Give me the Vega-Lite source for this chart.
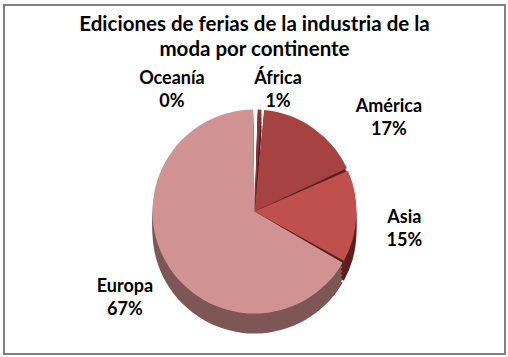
{
  "$schema": "https://vega.github.io/schema/vega-lite/v6.json",
  "width": 501,
  "height": 349,
  "autosize": {"type": "none"},
  "padding": {"left": 4, "top": 5, "right": 3, "bottom": 3},
  "background": "white",
  "view": {"stroke": "#808080", "strokeWidth": 2, "fill": "white"},
  "title": {
    "text": ["Ediciones de ferias de la industria de la", "moda por continente"],
    "orient": "top",
    "anchor": "middle",
    "frame": "group",
    "offset": -55,
    "font": "Lato",
    "fontSize": 20.5,
    "fontWeight": "bold",
    "color": "black",
    "lineHeight": 25
  },
  "data": {
    "values": [
      {"continente": "Oceanía", "porcentaje": 0.3, "orden": 1, "etiqueta": "Oceanía\n0%"},
      {"continente": "África", "porcentaje": 1.0, "orden": 2, "etiqueta": "África\n1%"},
      {"continente": "América", "porcentaje": 17.0, "orden": 3, "etiqueta": "América\n17%"},
      {"continente": "Asia", "porcentaje": 15.0, "orden": 4, "etiqueta": "Asia\n15%"},
      {"continente": "Europa", "porcentaje": 67.0, "orden": 5, "etiqueta": "Europa\n67%"}
    ]
  },
  "encoding": {
    "theta": {"field": "porcentaje", "type": "quantitative", "stack": true},
    "order": {"field": "orden", "type": "quantitative"}
  },
  "layer": [
    {
      "layer": [
        {"mark": {"type": "arc", "outerRadius": 102, "padAngle": 0.025, "yOffset": 52}},
        {"mark": {"type": "arc", "outerRadius": 102, "padAngle": 0.025, "yOffset": 48}},
        {"mark": {"type": "arc", "outerRadius": 102, "padAngle": 0.025, "yOffset": 44}},
        {"mark": {"type": "arc", "outerRadius": 102, "padAngle": 0.025, "yOffset": 40}},
        {"mark": {"type": "arc", "outerRadius": 102, "padAngle": 0.025, "yOffset": 36}}
      ],
      "encoding": {
        "color": {
          "field": "continente",
          "type": "nominal",
          "scale": {
            "domain": ["Oceanía", "África", "América", "Asia", "Europa"],
            "range": ["#4a1c1c", "#4a1c1c", "#5a2020", "#5c1e1e", "#7e5656"]
          },
          "legend": null
        }
      }
    },
    {
      "mark": {"type": "arc", "outerRadius": 102, "padAngle": 0.025, "yOffset": 32},
      "encoding": {
        "color": {
          "field": "continente",
          "type": "nominal",
          "scale": {
            "domain": ["Oceanía", "África", "América", "Asia", "Europa"],
            "range": ["#8b3333", "#8b3333", "#a64242", "#c0504d", "#d09292"]
          },
          "legend": null
        }
      }
    },
    {
      "mark": {"type": "text", "radius": 150, "yOffset": 32, "font": "Lato", "fontSize": 18, "fontWeight": "bold", "color": "black", "lineBreak": "\n", "lineHeight": 23},
      "encoding": {
        "text": {"condition": {"test": "datum.orden <= 3", "value": ""}, "field": "etiqueta", "type": "nominal"}
      }
    },
    {
      "mark": {"type": "text", "radius": 150, "yOffset": 32, "dx": 48, "dy": 18, "font": "Lato", "fontSize": 18, "fontWeight": "bold", "color": "black", "lineBreak": "\n", "lineHeight": 23},
      "encoding": {
        "text": {"condition": {"test": "datum.continente != 'América'", "value": ""}, "field": "etiqueta", "type": "nominal"}
      }
    },
    {
      "mark": {"type": "text", "radius": 150, "yOffset": 32, "dx": 16, "dy": 17, "font": "Lato", "fontSize": 18, "fontWeight": "bold", "color": "black", "lineBreak": "\n", "lineHeight": 23},
      "encoding": {
        "text": {"condition": {"test": "datum.continente != 'África'", "value": ""}, "field": "etiqueta", "type": "nominal"}
      }
    },
    {
      "mark": {"type": "text", "radius": 150, "yOffset": 32, "dx": -84, "dy": 17, "font": "Lato", "fontSize": 18, "fontWeight": "bold", "color": "black", "lineBreak": "\n", "lineHeight": 23},
      "encoding": {
        "text": {"condition": {"test": "datum.continente != 'Oceanía'", "value": ""}, "field": "etiqueta", "type": "nominal"}
      }
    }
  ],
  "resolve": {"scale": {"color": "independent"}}
}
